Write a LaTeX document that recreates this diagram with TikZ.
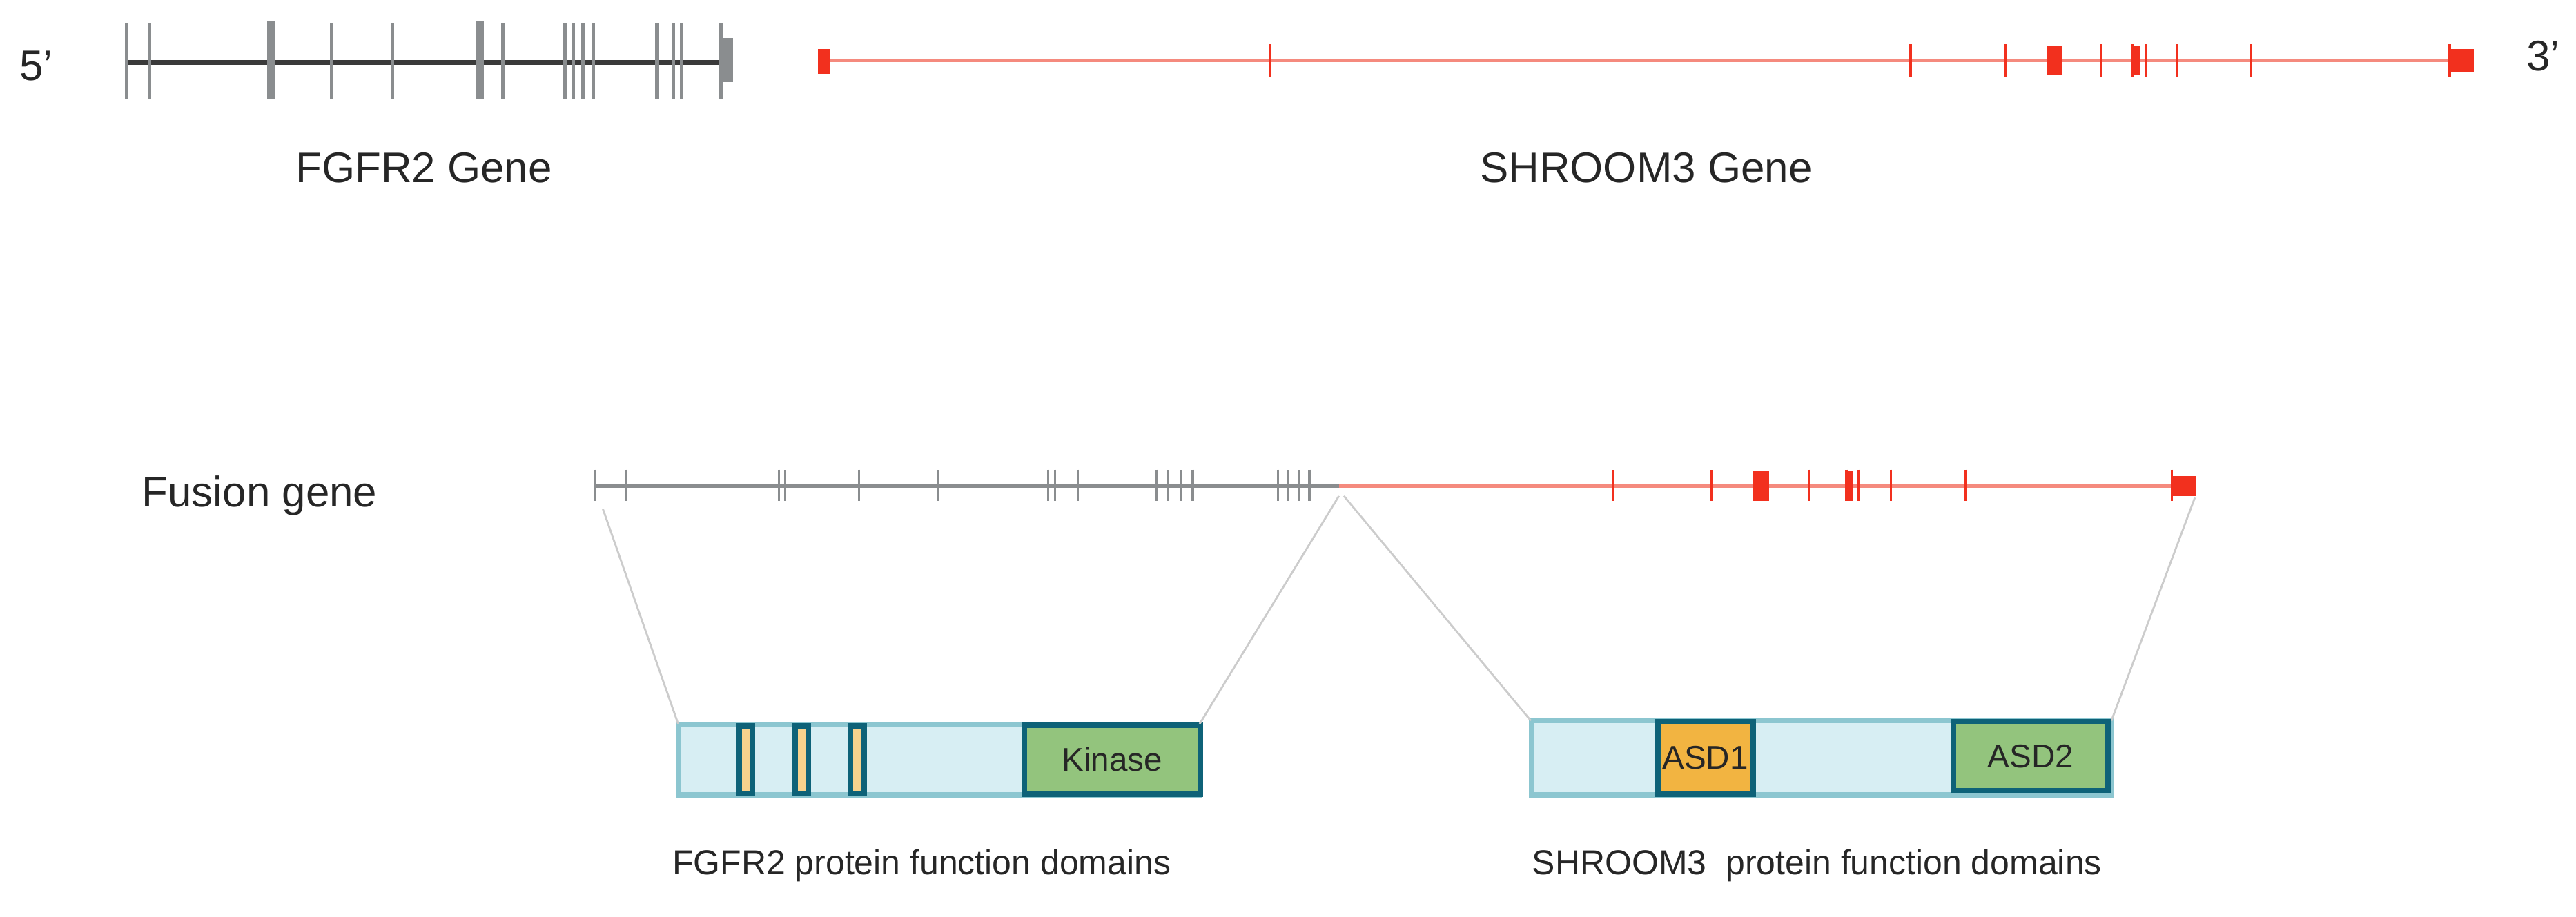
\documentclass[tikz,border=0pt]{standalone}
\usepackage{fontspec}
\setmainfont{Liberation Sans}
\usetikzlibrary{positioning}
\definecolor{fgray}{HTML}{8A8D8F}
\definecolor{fdark}{HTML}{3A3A3A}
\definecolor{sred}{HTML}{F2301E}
\definecolor{sline}{HTML}{F58A7E}
\definecolor{pfill}{HTML}{D7EEF3}
\definecolor{pband}{HTML}{8CC6D0}
\definecolor{pedge}{HTML}{0E6278}
\definecolor{dgreen}{HTML}{93C47D}
\definecolor{dorange}{HTML}{F2B441}
\tikzstyle{genelabel} = [font=\fontsize{26}{30}\selectfont, text=black!85]
\tikzstyle{caption} = [font=\fontsize{21}{25}\selectfont, text=black!85]
\tikzstyle{exon} = [fgray, line width=2.2pt]
\tikzstyle{rexon} = [sred, line width=1.6pt]
\tikzstyle{protein} = [fill=pfill, draw=pband, line width=3pt]
\tikzstyle{pdomain} = [draw=pedge, line width=3.5pt, text=black!85, font=\fontsize{20}{24}\selectfont]
\tikzstyle{zoomline} = [black!20, line width=1.2pt]

\begin{document}
\begin{tikzpicture}[x=1pt, y=-1pt]
\useasboundingbox (0,0) rectangle (1568,558);
%Genes
\node (five) [genelabel] at (22,40) {5'};
\node (three) [genelabel] at (1548,34) {3'};
\draw [fdark, line width=3pt] (77,38) -- (440,38);
\foreach \x in {77,91,202,239,306,344,349,355,361,400,410,415,439}
  \draw [exon] (\x,14) -- (\x,60);
\foreach \x in {165,292}
  \draw [fgray, line width=5pt] (\x,13) -- (\x,60);
\fill [fgray] (438,23) rectangle (446,50);
\draw [sline, line width=1.6pt] (500,37) -- (1500,37);
\fill [sred] (498,30) rectangle (505,45);
\foreach \x in {773,1163,1221,1279,1298,1306,1325,1370,1491}
  \draw [rexon] (\x,27) -- (\x,47);
\fill [sred] (1246,28) rectangle (1255,46);
\fill [sred] (1299,28) rectangle (1303,46);
\fill [sred] (1492,30) rectangle (1506,44);
\node (fgfr2) [genelabel] at (258,102) {FGFR2 Gene};
\node (shroom3) [genelabel] at (1002,102) {SHROOM3 Gene};
%Fusion gene
\node (fusion) [genelabel] at (158,302) {Fusion gene};
\draw [fgray, line width=2pt] (362,296) -- (815,296);
\draw [sline, line width=2pt] (815,296) -- (1330,296);
\foreach \x in {362,381,474,478,523,571,638,642,656,704,711,719,726,778,784,791,797}
  \draw [fgray, line width=1.3pt] (\x,286) -- (\x,305);
\foreach \x in {982,1042,1101,1124,1131,1151,1196,1322}
  \draw [rexon] (\x,286) -- (\x,305);
\fill [sred] (1067,287) rectangle (1077,305);
\fill [sred] (1124,287) rectangle (1128,305);
\fill [sred] (1322,290) rectangle (1337,302);
\coordinate (fa) at (367,310);
\coordinate (fb) at (815,302);
\coordinate (sa) at (818,302);
\coordinate (sb) at (1336,303);
%Proteins
\draw [protein] (413,441) rectangle (730,484);
\node (kinase) [pdomain, fill=dgreen, minimum width=107pt, minimum height=42pt, inner sep=0pt] at (677,462.5) {Kinase};
\foreach \x/\n in {454/d1,488/d2,522/d3}
  \node (\n) [draw=pedge, line width=3pt, fill=dorange!60, minimum width=8pt, minimum height=41pt, inner sep=0pt] at (\x,462.5) {};
\node (fgfrp) [minimum width=317pt, minimum height=43pt, inner sep=0pt] at (571.5,462.5) {};
\draw [protein] (932,439) rectangle (1285,484);
\node (asd1) [pdomain, fill=dorange, minimum width=58pt, minimum height=44pt, inner sep=0pt] at (1038,461.5) {ASD1};
\node (asd2) [pdomain, fill=dgreen, minimum width=94pt, minimum height=42pt, inner sep=0pt] at (1236,460.5) {ASD2};
\node (shroomp) [minimum width=353pt, minimum height=45pt, inner sep=0pt] at (1108.5,461.5) {};
\draw [zoomline] (fa) -- (fgfrp.north west);
\draw [zoomline] (fb) -- (fgfrp.north east);
\draw [zoomline] (sa) -- (shroomp.north west);
\draw [zoomline] (sb) -- (shroomp.north east);
\node (fcap) [caption] at (561,527) {FGFR2 protein function domains};
\node (scap) [caption] at (1106,527) {SHROOM3\ \ protein function domains};
\end{tikzpicture}
\end{document}
